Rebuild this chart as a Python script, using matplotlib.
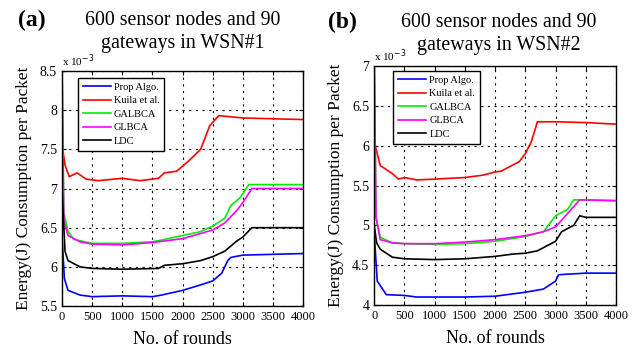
import numpy as np
import matplotlib
matplotlib.use('Agg')
import matplotlib.pyplot as plt

plt.rcParams['font.family'] = ['Liberation Serif', 'DejaVu Serif']

# ---- data (energy in 1e-3 J) ----
labels = ['Prop Algo.', 'Kuila et al.', 'GALBCA', 'GLBCA', 'LDC']
colors = ['#0000ff', '#ff0000', '#00ee00', '#ff00ff', '#000000']

# panel (a) WSN#1
a_prop_x = [0, 40, 100, 300, 500, 1000, 1500, 1650, 2000, 2300, 2500, 2650, 2750, 2800, 3000, 4000]
a_prop_y = [6.4, 5.85, 5.7, 5.64, 5.62, 5.63, 5.62, 5.64, 5.7, 5.77, 5.82, 5.92, 6.08, 6.12, 6.15, 6.17]
a_kuila_x = [0, 50, 120, 250, 400, 600, 1000, 1300, 1600, 1700, 1900, 2100, 2300, 2450, 2600, 3000, 4000]
a_kuila_y = [7.57, 7.3, 7.15, 7.2, 7.12, 7.1, 7.13, 7.1, 7.13, 7.2, 7.22, 7.35, 7.5, 7.8, 7.93, 7.9, 7.88]
a_galbca_x = [0, 30, 100, 200, 500, 1000, 1500, 1700, 2000, 2300, 2500, 2700, 2800, 2950, 3100, 4000]
a_galbca_y = [8.6, 6.7, 6.45, 6.35, 6.3, 6.3, 6.32, 6.35, 6.4, 6.45, 6.52, 6.62, 6.78, 6.88, 7.05, 7.05]
a_glbca_x = [0, 30, 100, 300, 500, 1000, 1500, 2000, 2500, 2700, 2900, 3000, 3150, 4000]
a_glbca_y = [8.6, 6.6, 6.4, 6.32, 6.29, 6.28, 6.31, 6.36, 6.47, 6.56, 6.72, 6.82, 7.0, 7.0]
a_ldc_x = [0, 50, 100, 300, 500, 1000, 1600, 1700, 2000, 2300, 2500, 2700, 2900, 3000, 3150, 4000]
a_ldc_y = [7.0, 6.2, 6.08, 6.0, 5.98, 5.97, 5.98, 6.02, 6.04, 6.08, 6.13, 6.2, 6.33, 6.38, 6.5, 6.5]

# panel (b) WSN#2
b_prop_x = [0, 50, 200, 500, 700, 1000, 1500, 2000, 2500, 2800, 2900, 3000, 3050, 3500, 4000]
b_prop_y = [4.9, 4.3, 4.13, 4.12, 4.1, 4.1, 4.1, 4.11, 4.16, 4.2, 4.25, 4.3, 4.38, 4.4, 4.4]
b_kuila_x = [0, 100, 300, 400, 500, 700, 1000, 1500, 1800, 2000, 2100, 2400, 2500, 2600, 2700, 3000, 3500, 4000]
b_kuila_y = [6.05, 5.75, 5.65, 5.58, 5.6, 5.57, 5.58, 5.6, 5.63, 5.67, 5.68, 5.8, 5.9, 6.05, 6.3, 6.3, 6.29, 6.27]
b_galbca_x = [0, 30, 100, 300, 500, 1000, 1500, 2000, 2500, 2800, 3000, 3200, 3300, 4000]
b_galbca_y = [7.1, 5.1, 4.85, 4.78, 4.77, 4.76, 4.77, 4.8, 4.86, 4.92, 5.12, 5.2, 5.32, 5.31]
b_glbca_x = [0, 30, 100, 300, 500, 1000, 1500, 2000, 2500, 2800, 3000, 3200, 3400, 4000]
b_glbca_y = [7.1, 5.1, 4.82, 4.78, 4.77, 4.77, 4.79, 4.82, 4.87, 4.92, 4.98, 5.15, 5.32, 5.31]
b_ldc_x = [0, 40, 100, 300, 500, 1000, 1500, 2000, 2300, 2500, 2700, 3000, 3100, 3300, 3400, 3500, 4000]
b_ldc_y = [5.0, 4.78, 4.7, 4.6, 4.58, 4.57, 4.58, 4.61, 4.64, 4.65, 4.68, 4.8, 4.92, 5.0, 5.12, 5.1, 5.1]

panels = [
    dict(tag='(a)', title='600 sensor nodes and 90\ngateways in WSN#1',
         series=[(a_prop_x, a_prop_y), (a_kuila_x, a_kuila_y), (a_galbca_x, a_galbca_y),
                 (a_glbca_x, a_glbca_y), (a_ldc_x, a_ldc_y)],
         ylim=(5.5, 8.5), yticks=[5.5, 6, 6.5, 7, 7.5, 8, 8.5],
         rect=[0.0964, 0.133, 0.375, 0.666],
         title_xy=(183, 32), tag_xy=(18, 20), leg_anchor=(0.066, 0.97)),
    dict(tag='(b)', title='600 sensor nodes and 90\ngateways in WSN#2',
         series=[(b_prop_x, b_prop_y), (b_kuila_x, b_kuila_y), (b_galbca_x, b_galbca_y),
                 (b_glbca_x, b_glbca_y), (b_ldc_x, b_ldc_y)],
         ylim=(4, 7), yticks=[4, 4.5, 5, 5.5, 6, 6.5, 7],
         rect=[0.582, 0.136, 0.376, 0.677],
         title_xy=(499, 34), tag_xy=(328, 22), leg_anchor=(0.079, 0.979)),
]

W, H = 643, 353
fig = plt.figure(figsize=(W / 100, H / 100), dpi=100)

for p in panels:
    ax = fig.add_axes(p['rect'])
    for (x, y), c, lab in zip(p['series'], colors, labels):
        ax.plot(x, y, color=c, lw=1.2, label=lab)
    ax.set_xlim(0, 4000)
    ax.set_ylim(*p['ylim'])
    ax.set_xticks(range(0, 4001, 500))
    ax.set_yticks(p['yticks'])
    ax.set_yticklabels(['%g' % v for v in p['yticks']])
    ax.tick_params(direction='in', top=True, right=True, length=3, labelsize=10)
    ax.tick_params(axis='x', labelsize=9)
    ax.grid(True, color='black', linestyle=(0, (2, 4)), linewidth=0.8)
    for s in ax.spines.values():
        s.set_linewidth(1.0)
    ax.set_xlabel('No. of rounds', fontsize=13, labelpad=6)
    ax.set_ylabel('Energy(J) Consumption per Packet', fontsize=12.5, labelpad=6)
    ax.text(0.0, 1.01, 'x 10$^{-3}$', transform=ax.transAxes, fontsize=8,
            ha='left', va='bottom')
    fig.text(p['title_xy'][0] / W, 1 - p['title_xy'][1] / H, p['title'],
             fontsize=14.3, ha='center', va='center', linespacing=1.25)
    fig.text(p['tag_xy'][0] / W, 1 - p['tag_xy'][1] / H, p['tag'],
             fontsize=17, fontweight='bold', ha='left', va='center')
    leg = ax.legend(loc='upper left', bbox_to_anchor=p['leg_anchor'], fontsize=7.5,
                    handlelength=2.7, fancybox=False, framealpha=1,
                    edgecolor='black', borderpad=0.45, labelspacing=0.4,
                    handletextpad=0.3, borderaxespad=0)
    leg.get_frame().set_linewidth(1.0)

fig.savefig('out.png', dpi=100)
